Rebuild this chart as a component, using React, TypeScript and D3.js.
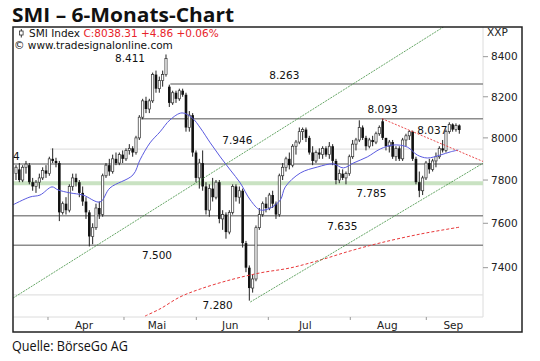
import React from 'react';
import * as d3 from 'd3';

const W = 540;
const H = 361;

// ---- candles (trading-day index 0..133) ----
const barOpen = [7830,7850,7800,7860,7870,7790,7770,7790,7810,7845,7830,7900,7890,7880,7650,7690,7660,7770,7810,7790,7740,7700,7650,7540,7580,7670,7640,7820,7870,7840,7900,7880,7920,7900,7940,7950,7930,8000,8100,8180,8140,8180,8310,8240,8280,8310,8250,8170,8220,8190,8230,8210,8050,8110,7930,7810,7880,7770,7660,7760,7720,7790,7620,7640,7560,7650,7770,7720,7750,7510,7400,7310,7350,7580,7640,7690,7670,7730,7690,7640,7820,7860,7900,7870,7960,7980,8030,8040,8000,7930,7890,7930,7920,7950,7920,7960,7890,7800,7830,7810,7830,7910,7970,7990,8050,8000,7960,7990,7980,8020,8080,8000,7960,7980,7910,7950,7900,7990,8010,8030,7900,7790,7750,7810,7880,7850,7890,7910,7950,7940,8030,8065,8040,8060];
const barHigh = [7870,7880,7870,7890,7880,7810,7800,7830,7860,7870,7910,7950,7905,7890,7700,7720,7780,7830,7830,7800,7770,7720,7660,7600,7690,7700,7830,7880,7900,7920,7930,7930,7940,7950,7970,7960,8010,8110,8190,8200,8190,8320,8330,8300,8330,8411,8260,8230,8230,8240,8240,8220,8130,8120,7940,7900,7940,7790,7780,7810,7800,7800,7660,7650,7660,7780,7780,7770,7760,7520,7410,7370,7590,7670,7700,7720,7740,7750,7700,7830,7880,7910,7930,7970,7990,8050,8050,8050,8010,7960,7940,7950,7960,7960,7980,7970,7900,7850,7850,7840,7920,7990,8000,8085,8060,8010,8000,8010,8030,8060,8093,8000,7990,7990,7960,7960,8000,8020,8037,8035,7910,7840,7820,7890,7900,7900,7930,7960,7990,8040,8075,8070,8070,8065];
const barLow = [7800,7790,7790,7830,7780,7750,7740,7760,7800,7810,7820,7880,7860,7610,7640,7640,7650,7750,7770,7720,7680,7620,7495,7505,7570,7620,7630,7810,7820,7830,7870,7870,7880,7890,7920,7910,7920,7990,8090,8120,8120,8170,8220,8220,8250,8300,8150,8160,8170,8180,8200,8030,8030,7910,7790,7760,7750,7640,7630,7700,7710,7600,7570,7530,7550,7640,7700,7690,7490,7380,7255,7290,7340,7570,7630,7650,7660,7670,7620,7630,7800,7840,7850,7860,7920,7970,7990,7980,7920,7870,7880,7900,7900,7910,7900,7870,7780,7785,7800,7780,7820,7900,7940,7980,7990,7940,7950,7960,7970,8010,7990,7940,7930,7900,7890,7890,7890,7960,7990,7890,7780,7720,7730,7800,7830,7840,7860,7900,7930,7930,8020,8030,8030,8020];
const barClose = [7860,7800,7860,7875,7790,7770,7790,7810,7845,7830,7900,7890,7880,7650,7690,7660,7770,7810,7790,7740,7700,7650,7540,7580,7670,7640,7820,7870,7840,7900,7880,7920,7900,7940,7950,7930,8000,8100,8180,8140,8180,8310,8240,8280,8310,8390,8170,8220,8190,8230,8210,8050,8110,7930,7810,7880,7770,7660,7760,7720,7790,7620,7640,7560,7650,7770,7720,7750,7510,7400,7310,7350,7580,7640,7690,7670,7730,7690,7640,7820,7860,7900,7870,7960,7980,8030,8040,8000,7930,7890,7930,7920,7950,7920,7960,7890,7800,7830,7810,7830,7910,7970,7990,8050,8000,7960,7990,7980,8020,8050,8000,7960,7980,7910,7950,7900,7990,8010,8030,7900,7790,7750,7810,7880,7850,7890,7910,7950,7940,8030,8065,8040,8060,8038];

// ---- short moving average (blue) ----
const maIdx = [-1,4.2,7.2,10.8,12.6,16.2,20.1,25.2,28.2,35.1,37.2,40.2,43.2,46.2,49.8,52.9,55.3,58.3,61.3,64.3,67.3,70.3,73.3,76.3,79.3,80.8,85.3,90.4,95.2,98.2,101.2,105.4,109.3,113.2,117.4,120.4,123.4,127.3,130.3,132.7];
const maVal = [7684,7721,7730,7768,7754,7740,7730,7698,7763,7824,7895,7976,8029,8087,8121,8096,8048,7976,7909,7847,7786,7707,7661,7670,7707,7768,7833,7861,7876,7857,7880,7909,7947,7966,7956,7918,7904,7918,7933,7942];

// ---- long moving average (red dashed) ----
const ma2Idx = [38.7,43.2,49.2,55.3,64.3,73.3,82.3,91.3,100.3,109.3,121.3,133.3];
const ma2Val = [7188,7219,7271,7306,7346,7377,7399,7434,7475,7511,7551,7583];

// ---- trend lines: [idx0, val0, idx1, val1] ----
const greenUpper = [-0.9, 7266, 140.2, 8681];
const greenLower = [70.3, 7249, 140.2, 7880];
const redResist = [109.8, 8093, 140.2, 7887];

// ---- horizontal levels ----
const levelVal = [8263, 8093, 7946, 7876, 7785, 7635, 7500, 7280];
const levelStart = [46.3, 37.5, 10.2, -1, -1, -1, -1, -1];
const levelKind = ['dark', 'dark', 'light', 'dark', 'green', 'dark', 'dark', 'light'];

// ---- annotations ----
const annoText = ['8.411', '8.263', '8.093', '7.946', '8.037', '7.785', '7.635', '7.500', '7.280', '4'];
const annoIdx = [34.2, 80.5, 110.0, 66.4, 124.9, 106.6, 97.9, 42.3, 60.5, -0.2];
const annoVal = [8411, 8263, 8093, 7946, 8037, 7785, 7635, 7500, 7280, 7876];
const annoPos = ['peak', 'above', 'above', 'above', 'mid', 'below', 'below', 'below', 'below', 'aboveL'];

// ---- axes ----
const yTicks = [8400, 8200, 8000, 7800, 7600, 7400];
const monthNames = ['Apr', 'Mai', 'Jun', 'Jul', 'Aug', 'Sep'];
const monthTickIdx = [9.6, 32.4, 54.1, 75.7, 100.3, 123.1];
const monthLabelIdx = [20.4, 42.3, 64.3, 86.8, 111.4, 131.2];

const FONT = 'DejaVu Sans, Verdana, sans-serif';

export default function App() {
  const L = 13, R = 483, T = 27, B = 317;
  const x = d3.scaleLinear().domain([0, 133]).range([16, 459.3]);
  const y = d3.scaleLog().domain([7184, 8551]).range([B, T]);

  const maLine = d3.line<number>().x((_, i) => x(maIdx[i])).y((v) => y(v)).curve(d3.curveCatmullRom);
  const ma2Line = d3.line<number>().x((_, i) => x(ma2Idx[i])).y((v) => y(v)).curve(d3.curveCatmullRom);

  const trend = (t: number[]) => ({ x1: x(t[0]), y1: y(t[1]), x2: x(t[2]), y2: y(t[3]) });
  const gU = trend(greenUpper), gL = trend(greenLower), rR = trend(redResist);

  return (
    <svg width={W} height={H} style={{ position: 'absolute', left: 0, top: 0, background: '#fff' }} fontFamily={FONT}>
      <defs>
        <clipPath id="plot"><rect x={L} y={T} width={R - L} height={B - T} /></clipPath>
      </defs>
      <rect x={0} y={0} width={W} height={H} fill="#fff" />
      <text x={12} y={22} fontFamily="Open Sans, sans-serif" fontWeight={700} fontSize={20} textLength={222} lengthAdjust="spacingAndGlyphs" fill="#111">SMI – 6-Monats-Chart</text>

      {/* plot inner borders */}
      <line x1={R} y1={T} x2={R} y2={B} stroke="#dcdcdc" strokeWidth={1} />
      <line x1={L} y1={B} x2={R} y2={B} stroke="#dcdcdc" strokeWidth={1} />

      <g clipPath="url(#plot)">
        {levelVal.map((v, i) => {
          const k = levelKind[i];
          const x0 = levelStart[i] < 0 ? L : x(levelStart[i]);
          if (k === 'green') return <line key={i} x1={x0} x2={R} y1={y(v)} y2={y(v)} stroke="#c9e2c2" strokeWidth={4} />;
          return <line key={i} x1={x0} x2={R} y1={y(v)} y2={y(v)} stroke={k === 'dark' ? '#8c8c8c' : '#e2e2e2'} strokeWidth={k === 'dark' ? 1.5 : 1.2} />;
        })}

        {barOpen.map((o, i) => {
          const c = barClose[i];
          const cx = x(i);
          const up = c >= o;
          const top = y(Math.max(o, c));
          const bot = y(Math.min(o, c));
          return (
            <g key={i}>
              <line x1={cx} x2={cx} y1={y(barHigh[i])} y2={y(barLow[i])} stroke="#222" strokeWidth={1} />
              {up ? (
                <rect x={cx - 1.1} y={top} width={2.2} height={Math.max(bot - top, 1)} fill="#fff" stroke="#333" strokeWidth={0.7} />
              ) : (
                <rect x={cx - 1.3} y={top} width={2.6} height={Math.max(bot - top, 1)} fill="#111" />
              )}
            </g>
          );
        })}

        <path d={maLine(maVal) || ''} fill="none" stroke="#5a5ae0" strokeWidth={1} />
        <path d={ma2Line(ma2Val) || ''} fill="none" stroke="#e8383a" strokeWidth={1} strokeDasharray="3,2" />
        <line {...gU} stroke="#3f8f3f" strokeWidth={0.8} strokeDasharray="2,1" />
        <line {...gL} stroke="#3f8f3f" strokeWidth={0.8} strokeDasharray="2,1" />
        <line {...rR} stroke="#e8383a" strokeWidth={0.9} strokeDasharray="2,1.5" />
      </g>

      {annoText.map((t, i) => {
        const p = annoPos[i];
        const yy = y(annoVal[i]);
        const by = p === 'above' ? yy - 5.5 : p === 'below' ? yy + 14 : p === 'aboveL' ? yy - 4 : p === 'peak' ? yy + 8 : yy + 4;
        return (
          <text key={i} x={p === 'aboveL' ? L : x(annoIdx[i])} y={by} textAnchor={p === 'aboveL' ? 'start' : 'middle'} fontSize={10.5} fill="#111">{t}</text>
        );
      })}

      {/* legend */}
      <line x1={21.3} x2={21.3} y1={29} y2={37.5} stroke="#333" strokeWidth={1} />
      <rect x={19.5} y={31} width={3.6} height={4} fill="#fff" stroke="#333" strokeWidth={0.8} />
      <text x={29} y={37} fontSize={10.5} fill="#111">SMI Index <tspan fill="#e8232a">C:8038.31 +4.86 +0.06%</tspan></text>
      <text x={14} y={49} fontSize={10.5} fill="#111">© www.tradesignalonline.com</text>

      {/* right axis */}
      <text x={487} y={36} fontSize={10.5} fill="#222">XXP</text>
      {yTicks.map((v) => (
        <g key={v}>
          <line x1={R} x2={R + 5} y1={y(v)} y2={y(v)} stroke="#999" strokeWidth={1} />
          <text x={491} y={y(v)} dy="0.36em" fontSize={10.5} fill="#222">{v}</text>
        </g>
      ))}

      {/* bottom axis */}
      {monthTickIdx.map((m, i) => (
        <line key={i} x1={x(m)} x2={x(m)} y1={B} y2={B + 3} stroke="#999" strokeWidth={1} />
      ))}
      {monthNames.map((m, i) => (
        <text key={m} x={x(monthLabelIdx[i])} y={329} textAnchor="middle" fontSize={10.5} fill="#222">{m}</text>
      ))}

      {/* frame */}
      <rect x={13} y={27} width={509} height={305} fill="none" stroke="#222" strokeWidth={1.5} />

      <text x={12} y={351} fontFamily="Open Sans, sans-serif" fontSize={14.5} textLength={116} lengthAdjust="spacingAndGlyphs" fill="#111">Quelle: BörseGo AG</text>
    </svg>
  );
}
